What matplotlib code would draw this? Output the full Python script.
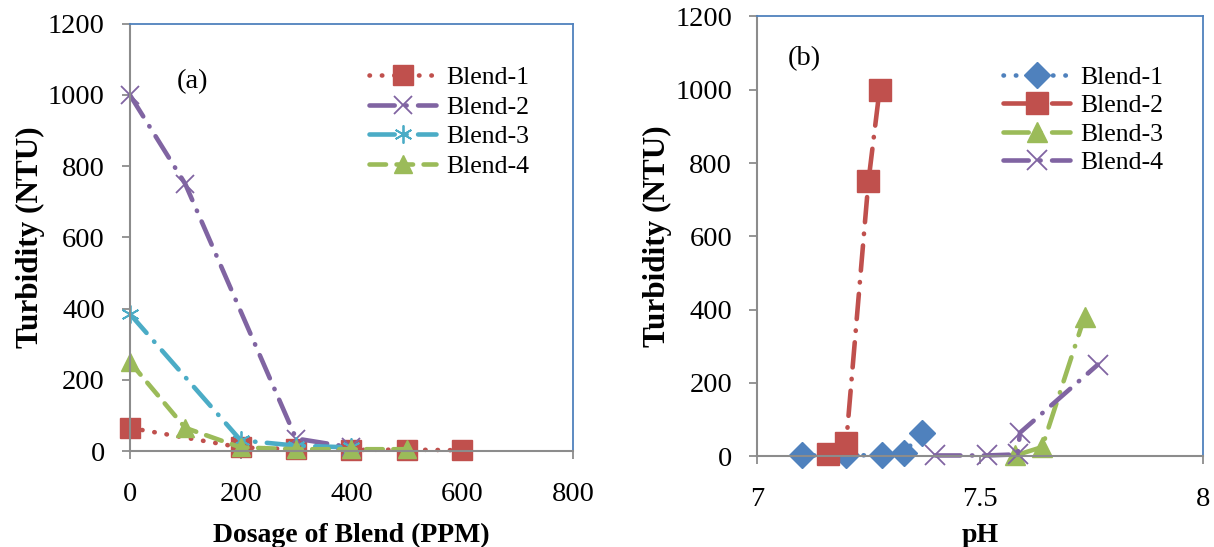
import matplotlib.pyplot as plt

plt.rcParams['font.family'] = ['Liberation Serif', 'DejaVu Serif']

# panel (a): turbidity vs dosage
a_b1_x = [0, 200, 300, 400, 500, 600]
a_b1_y = [65, 10, 5, 3, 4, 2]
a_b2_x = [0, 100, 300, 400]
a_b2_y = [1000, 750, 35, 10]
a_b3_x = [0, 200, 300, 400]
a_b3_y = [385, 30, 15, 10]
a_b4_x = [0, 100, 200, 300, 400, 500]
a_b4_y = [250, 65, 10, 5, 5, 5]

# panel (b): turbidity vs pH
b_b1_x = [7.10, 7.20, 7.28, 7.33, 7.37]
b_b1_y = [2, 2, 3, 10, 64]
b_b2_x = [7.16, 7.20, 7.25, 7.275]
b_b2_y = [5, 35, 750, 1000]
b_b3_x = [7.58, 7.64, 7.735]
b_b3_y = [2, 25, 380]
b_b4_x = [7.40, 7.515, 7.585, 7.59, 7.765]
b_b4_y = [2, 2, 5, 64, 250]

labels = ['Blend-1', 'Blend-2', 'Blend-3', 'Blend-4']

RED, PURPLE, CYAN, GREEN, BLUE = '#C0504D', '#8064A2', '#4BACC6', '#9BBB59', '#4F81BD'
dotted = (0, (0.1, 2.6))
dashdot = (0, (5.5, 2.5, 0.1, 2.5))
dashed = (0, (3.6, 2.3))

fig = plt.figure(figsize=(12.14, 5.47), dpi=100)
ax1 = fig.add_axes([0.107, 0.1755, 0.365, 0.781])
ax2 = fig.add_axes([0.6236, 0.166, 0.367, 0.804])

def style(ax):
    for s in ['left', 'bottom']:
        ax.spines[s].set_color('#8c8c8c')
        ax.spines[s].set_linewidth(1.5)
    for s in ['top', 'right']:
        ax.spines[s].set_color(BLUE)
        ax.spines[s].set_linewidth(1.3)
    ax.tick_params(direction='out', length=6, width=1.3, color='#8c8c8c',
                   labelsize=20.5, pad=12)
    ax.set_ylim(0, 1200)
    ax.set_yticks(range(0, 1201, 200))
    ax.set_ylabel('Turbidity (NTU)', fontsize=22.5, fontweight='bold', labelpad=2)

kw = dict(linewidth=3.3, dash_capstyle='round', solid_capstyle='round', clip_on=False)
leg_kw = dict(loc='upper left', frameon=False, fontsize=18.5, handlelength=2.6,
              handletextpad=0.4, borderaxespad=0)

ax1.plot(a_b1_x, a_b1_y, color=RED, linestyle=dotted, marker='s', markersize=14, label=labels[0], **kw)
ax1.plot(a_b2_x, a_b2_y, color=PURPLE, linestyle=dashdot, marker='x', markersize=13, markeredgewidth=1.3, label=labels[1], **kw)
ax1.plot(a_b3_x, a_b3_y, color=CYAN, linestyle=dashdot, marker=(6, 2, 0), markersize=13, markeredgewidth=1.3, label=labels[2], **kw)
ax1.plot(a_b4_x, a_b4_y, color=GREEN, linestyle=dashed, marker='^', markersize=13, label=labels[3], **kw)
style(ax1)
ax1.set_xlim(0, 800)
ax1.set_xticks(range(0, 801, 200))
ax1.set_xlabel('Dosage of Blend (PPM)', fontsize=20, fontweight='bold', labelpad=12)
ax1.tick_params(axis='x', pad=16)
ax1.text(0.105, 0.85, '(a)', transform=ax1.transAxes, fontsize=20.5)
ax1.legend(bbox_to_anchor=(0.517, 0.925), labelspacing=0.26, **leg_kw)

ax2.plot(b_b1_x, b_b1_y, color=BLUE, linestyle=dotted, marker='D', markersize=13, label=labels[0], **kw)
ax2.plot(b_b2_x, b_b2_y, color=RED, linestyle=dashdot, marker='s', markersize=16, label=labels[1], **kw)
ax2.plot(b_b3_x, b_b3_y, color=GREEN, linestyle=dashdot, marker='^', markersize=15, label=labels[2], **kw)
ax2.plot(b_b4_x, b_b4_y, color=PURPLE, linestyle=dashdot, marker='x', markersize=14, markeredgewidth=1.3, label=labels[3], **kw)
style(ax2)
ax2.set_xlim(7, 8)
ax2.set_xticks([7, 7.5, 8])
ax2.set_xticklabels(['7', '7.5', '8'])
ax2.set_xlabel('pH', fontsize=20, fontweight='bold', labelpad=8)
ax2.tick_params(axis='x', pad=16)
ax2.text(0.07, 0.89, '(b)', transform=ax2.transAxes, fontsize=20.5)
ax2.legend(bbox_to_anchor=(0.53, 0.91), labelspacing=0.2, **leg_kw)

fig.savefig('out.png', dpi=100)
